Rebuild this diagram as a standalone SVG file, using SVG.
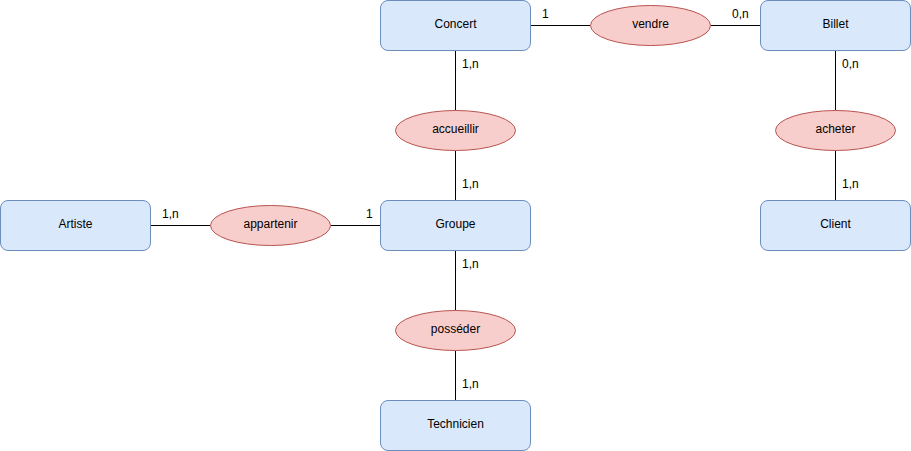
<svg xmlns="http://www.w3.org/2000/svg" width="911" height="451" viewBox="0 0 911 451">
<style>
.ent{fill:#dae8fc;stroke:#6c8ebf;stroke-width:1}
.rel{fill:#f8cecc;stroke:#b85450;stroke-width:1}
.lbl{font-family:"Liberation Sans",Arial,sans-serif;font-size:12px;fill:#000}
.c{text-anchor:middle}
.edge{stroke:#000;stroke-width:1;fill:none}
</style>
<rect width="911" height="451" fill="#fff"/>
<g id="connectors">
<path class="edge" d="M530.5 25.5H590.5"/>
<path class="edge" d="M710.5 25.5H760.5"/>
<path class="edge" d="M455.5 50.5V110.5"/>
<path class="edge" d="M455.5 150.5V200.5"/>
<path class="edge" d="M835.5 50.5V110.5"/>
<path class="edge" d="M835.5 150.5V200.5"/>
<path class="edge" d="M150.5 225.5H210.5"/>
<path class="edge" d="M330.5 225.5H380.5"/>
<path class="edge" d="M455.5 250.5V310.5"/>
<path class="edge" d="M455.5 350.5V400.5"/>
<text class="lbl" x="542" y="18">1</text>
<text class="lbl" x="732" y="18">0,n</text>
<text class="lbl" x="462" y="68">1,n</text>
<text class="lbl" x="462" y="188">1,n</text>
<text class="lbl" x="842" y="68">0,n</text>
<text class="lbl" x="842" y="188">1,n</text>
<text class="lbl" x="162" y="218">1,n</text>
<text class="lbl" x="366" y="218">1</text>
<text class="lbl" x="462" y="268">1,n</text>
<text class="lbl" x="462" y="388">1,n</text>
</g>
<g id="concert"><rect class="ent" x="380.5" y="0.5" width="150" height="50" rx="7.5"/><text class="lbl c" x="455.5" y="28">Concert</text></g>
<g id="billet"><rect class="ent" x="760.5" y="0.5" width="150" height="50" rx="7.5"/><text class="lbl c" x="835.5" y="28">Billet</text></g>
<g id="artiste"><rect class="ent" x="0.5" y="200.5" width="150" height="50" rx="7.5"/><text class="lbl c" x="75.5" y="228">Artiste</text></g>
<g id="groupe"><rect class="ent" x="380.5" y="200.5" width="150" height="50" rx="7.5"/><text class="lbl c" x="455.5" y="228">Groupe</text></g>
<g id="client"><rect class="ent" x="760.5" y="200.5" width="150" height="50" rx="7.5"/><text class="lbl c" x="835.5" y="228">Client</text></g>
<g id="technicien"><rect class="ent" x="380.5" y="400.5" width="150" height="50" rx="7.5"/><text class="lbl c" x="455.5" y="428">Technicien</text></g>
<g id="vendre"><ellipse class="rel" cx="650.5" cy="25.5" rx="60" ry="20"/><text class="lbl c" x="650.5" y="28">vendre</text></g>
<g id="accueillir"><ellipse class="rel" cx="455.5" cy="130.5" rx="60" ry="20"/><text class="lbl c" x="455.5" y="133">accueillir</text></g>
<g id="acheter"><ellipse class="rel" cx="835.5" cy="130.5" rx="60" ry="20"/><text class="lbl c" x="835.5" y="133">acheter</text></g>
<g id="appartenir"><ellipse class="rel" cx="270.5" cy="225.5" rx="60" ry="20"/><text class="lbl c" x="270.5" y="228">appartenir</text></g>
<g id="posseder"><ellipse class="rel" cx="455.5" cy="330.5" rx="60" ry="20"/><text class="lbl c" x="455.5" y="333">posséder</text></g>
</svg>
